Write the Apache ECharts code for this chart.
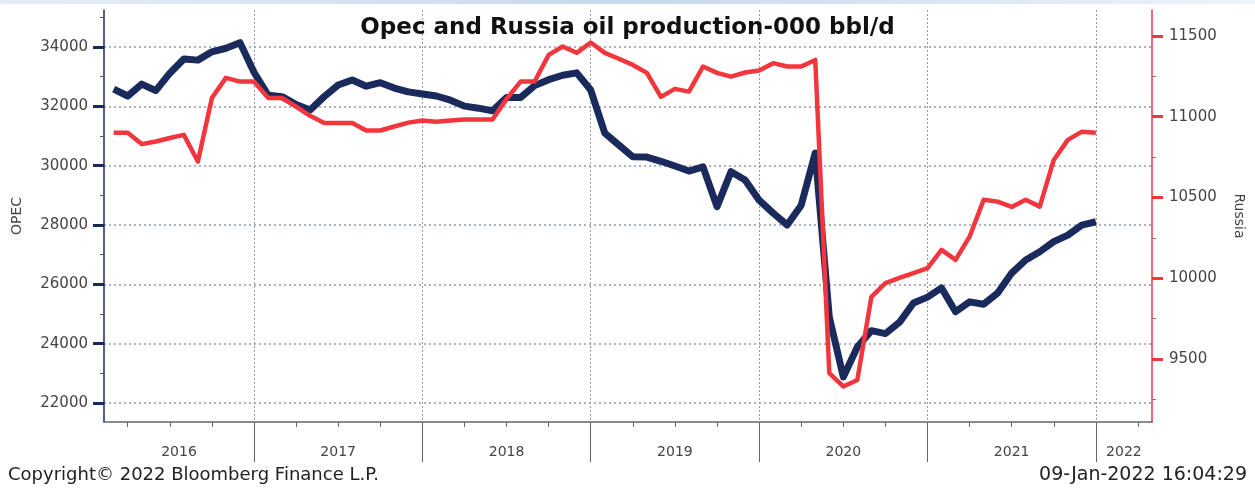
<!DOCTYPE html>
<html>
<head>
<meta charset="utf-8">
<script src="https://cdn.jsdelivr.net/npm/echarts@6/dist/echarts.min.js"></script>
<style>
  html, body { margin: 0; padding: 0; background: #fff; }
  #chart { width: 1255px; height: 489px; }
</style>
</head>
<body>
<div id="chart"></div>
<script>
// ── données mensuelles, 1er point = fin février 2016 ─────────────────────────
const opec = [
  32580, 32350, 32750, 32530, 33120, 33600, 33560, 33840, 33960, 34150,
  33150, 32380, 32330, 32060, 31880, 32330, 32720, 32890, 32680, 32800,
  32620, 32490, 32420, 32350, 32210, 32010, 31940, 31850, 32300, 32300,
  32700, 32900, 33050, 33130, 32550, 31100, 30700, 30300, 30290, 30150,
  29990, 29820, 29960, 28620, 29800, 29520, 28840, 28400, 28000, 28670,
  30430, 24900, 22880, 23890, 24440, 24340, 24720, 25370, 25570, 25880,
  25080, 25410, 25330, 25710, 26380, 26820, 27100, 27440, 27660, 28000,
  28110
];
const russia = [
  10900, 10900, 10830, 10846, 10868, 10887, 10722, 11116, 11240, 11217,
  11217, 11116, 11116, 11062, 11005, 10961, 10961, 10961, 10914, 10914,
  10939, 10963, 10976, 10969, 10976, 10982, 10982, 10982, 11110, 11217,
  11217, 11382, 11434, 11395, 11459, 11395, 11358, 11320, 11271, 11122,
  11172, 11155, 11310, 11271, 11248, 11273, 11285, 11331, 11310, 11310,
  11351, 9413, 9330, 9370, 9884, 9970, 10002, 10032, 10063, 10175,
  10113, 10257, 10485, 10474, 10441, 10485, 10443, 10732, 10856, 10907,
  10901
];
const years       = ['2016', '2017', '2018', '2019', '2020', '2021', '2022'];
const opecTicks   = [22000, 24000, 26000, 28000, 30000, 32000, 34000];
const russiaTicks = [9500, 10000, 10500, 11000, 11500];

// axe X en mois depuis le 1er janvier 2016
const firstMonth = 2;
const xMin = 1.31, xMax = 76;
const yearStarts = years.slice(1).map((y, i) => (i + 1) * 12);
// labels centrés sur la partie visible de chaque année
const yearMids = years.map(function (y, i) {
  const a = Math.max(xMin, i * 12), b = Math.min(xMax, (i + 1) * 12);
  return (a + b) / 2;
});

const NAVY = '#1b2a5c';
const RED  = '#f2363d';
const TXT  = '#444';
const FONT = 'DejaVu Sans';

const toPairs = arr => arr.map((v, i) => [firstMonth + i, v]);
const plain   = v => String(v);

const chart = echarts.init(document.getElementById('chart'), null, { renderer: 'canvas' });

chart.setOption({
  backgroundColor: '#fff',
  animation: false,
  title: {
    text: 'Opec and Russia oil production-000 bbl/d',
    left: 'center', top: 12,
    textStyle: { fontFamily: FONT, fontWeight: 'bold', fontSize: 23, color: '#111' }
  },
  grid: { left: 104, right: 103, top: 10, bottom: 67 },
  xAxis: {
    type: 'value',
    min: xMin, max: xMax,
    minInterval: 12, maxInterval: 12,
    axisLine: { show: true, lineStyle: { color: '#666', width: 1.5 } },
    axisTick: {
      show: true, length: 40, customValues: yearStarts,
      lineStyle: { color: '#666', width: 1 }
    },
    minorTick: { show: true, splitNumber: 4, length: 5, lineStyle: { color: '#666', width: 1 } },
    splitLine: { show: true, lineStyle: { color: '#999', width: 1, type: [2, 2] } },
    axisLabel: {
      customValues: yearMids, margin: 23,
      color: TXT, fontFamily: FONT, fontSize: 14,
      formatter: v => years[Math.floor(v / 12)]
    }
  },
  yAxis: [
    {
      type: 'value', position: 'left',
      min: 21360, max: 35250,
      minInterval: 2000, maxInterval: 2000,
      name: 'OPEC', nameLocation: 'middle', nameGap: 80, nameRotate: 90,
      nameTextStyle: { color: TXT, fontFamily: FONT, fontSize: 14 },
      axisLine: { show: true, lineStyle: { color: NAVY, width: 1.5 } },
      axisTick: { show: true, length: 11, customValues: opecTicks, lineStyle: { color: NAVY, width: 3 } },
      minorTick: { show: true, splitNumber: 2, length: 4, lineStyle: { color: '#555', width: 1 } },
      splitLine: { show: true, lineStyle: { color: '#aab2c4', width: 2, type: [2, 3] } },
      axisLabel: { customValues: opecTicks, margin: 16, color: TXT, fontFamily: FONT, fontSize: 15, formatter: plain }
    },
    {
      type: 'value', position: 'right',
      min: 9110, max: 11660,
      minInterval: 500, maxInterval: 500,
      name: 'Russia', nameLocation: 'middle', nameGap: 80, nameRotate: -90,
      nameTextStyle: { color: TXT, fontFamily: FONT, fontSize: 14 },
      axisLine: { show: true, lineStyle: { color: RED, width: 1.5 } },
      axisTick: { show: true, length: 11, customValues: russiaTicks, lineStyle: { color: RED, width: 3 } },
      minorTick: { show: true, splitNumber: 2, length: 4, lineStyle: { color: '#777', width: 1 } },
      splitLine: { show: false },
      axisLabel: { customValues: russiaTicks, margin: 17, color: TXT, fontFamily: FONT, fontSize: 15, formatter: plain }
    }
  ],
  series: [
    {
      name: 'OPEC', type: 'line', yAxisIndex: 0,
      showSymbol: false, symbol: 'none',
      lineStyle: { color: NAVY, width: 7, join: 'round' },
      data: toPairs(opec)
    },
    {
      name: 'Russia', type: 'line', yAxisIndex: 1,
      showSymbol: false, symbol: 'none',
      lineStyle: { color: RED, width: 4.5, join: 'round' },
      data: toPairs(russia)
    }
  ],
  graphic: [
    {
      type: 'rect', left: 0, top: 0, silent: true,
      shape: { width: 1255, height: 4 },
      style: { fill: new echarts.graphic.LinearGradient(0, 0, 1, 0, [
        { offset: 0, color: '#e6edf7' }, { offset: 0.5, color: '#c9d8ee' }, { offset: 1, color: '#eef3fa' }
      ]) }
    },
    {
      type: 'text', left: 8, top: 466,
      style: { text: 'Copyright© 2022 Bloomberg Finance L.P.', fill: '#222', font: '18px "DejaVu Sans"' }
    },
    {
      type: 'text', right: 8, top: 466,
      style: { text: '09-Jan-2022 16:04:29', fill: '#222', font: '19px "DejaVu Sans"' }
    }
  ]
});
</script>
</body>
</html>
